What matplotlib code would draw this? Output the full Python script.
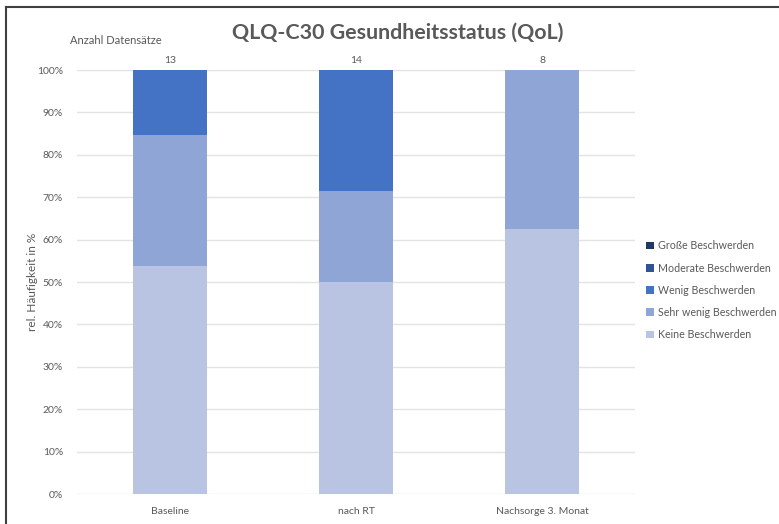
import matplotlib
matplotlib.use("Agg")
import matplotlib.pyplot as plt
from matplotlib.lines import Line2D
from matplotlib.patches import Patch
import numpy as np

plt.rcParams['font.family'] = ['Lato', 'DejaVu Sans']

categories = ["Baseline", "nach RT", "Nachsorge 3. Monat"]
series_names = ["Keine Beschwerden", "Sehr wenig Beschwerden", "Wenig Beschwerden",
                "Moderate Beschwerden", "Große Beschwerden"]
# counts per response category (bottom to top of each stack)
keine = [7, 7, 5]
sehr_wenig = [4, 3, 3]
wenig = [2, 4, 0]
moderat = [0, 0, 0]
gross = [0, 0, 0]
n_records = [13, 14, 8]
y_ticks = [0, 10, 20, 30, 40, 50, 60, 70, 80, 90, 100]

colors = ["#B9C3E2", "#8FA5D6", "#4472C4", "#2F5597", "#203864"]
text_col = "#595959"

fig = plt.figure(figsize=(7.79, 5.24), dpi=100)
W, H = 779, 524
ax = fig.add_axes([77 / W, (H - 494) / H, (635 - 77) / W, (494 - 70) / H])

x = np.arange(len(categories))
series = [keine, sehr_wenig, wenig, moderat, gross]
bottom = np.zeros(len(categories))
for vals, col in zip(series, colors):
    pct = np.array(vals) / np.array(n_records) * 100
    ax.bar(x, pct, width=0.4, bottom=bottom, color=col, zorder=3)
    bottom += pct

ax.set_xlim(-0.5, 2.5)
ax.set_ylim(0, 100)
ax.set_yticks(y_ticks)
ax.set_yticklabels([f"{t}%" for t in y_ticks])
ax.set_xticks(x)
ax.set_xticklabels(categories)
ax.yaxis.grid(True, color="#E3E3E3", linewidth=1, zorder=0)
for s in ax.spines.values():
    s.set_visible(False)
ax.tick_params(axis='both', length=0, labelsize=7.5, colors=text_col)
ax.tick_params(axis='y', pad=10)
ax.tick_params(axis='x', pad=9)
ax.set_ylabel("rel. Häufigkeit in %", fontsize=8.5, color=text_col, labelpad=-1)

for xi, n in zip(x, n_records):
    ax.text(xi, 101.2, str(n), ha='center', va='bottom', fontsize=7.5, color=text_col)

fig.text(398 / W, 1 - 33 / H, "QLQ-C30 Gesundheitsstatus (QoL)", ha='center', va='center',
         fontsize=15.4, fontweight='bold', color=text_col)
fig.text(70 / W, 1 - 40 / H, "Anzahl Datensätze", ha='left', va='center',
         fontsize=8, color=text_col)

handles = [Patch(facecolor=c, edgecolor='none') for c in colors][::-1]
labels = series_names[::-1]
leg = fig.legend(handles, labels, loc='upper left', bbox_to_anchor=(642 / W, 1 - 236 / H),
                 frameon=False, fontsize=7.7, handlelength=0.7, handleheight=0.7,
                 handletextpad=0.4, labelspacing=1.05, borderaxespad=0)
for t in leg.get_texts():
    t.set_color(text_col)

# outer frame lines (left and top)
fig.add_artist(Line2D([5.5 / W, 5.5 / W], [0, 1 - 7 / H], color="#404040", linewidth=1.5))
fig.add_artist(Line2D([5.5 / W, 1], [1 - 7 / H, 1 - 7 / H], color="#404040", linewidth=1.5))

fig.savefig("out.png", dpi=100)
